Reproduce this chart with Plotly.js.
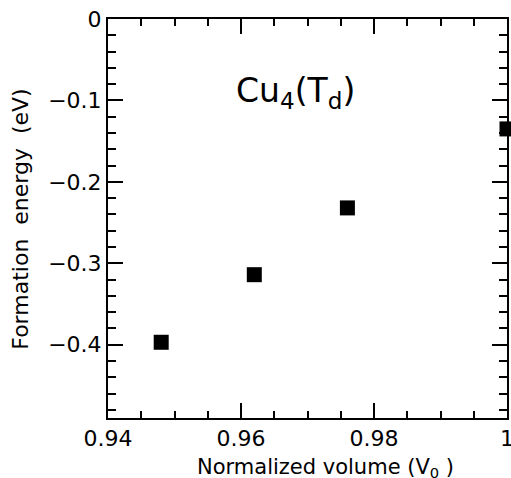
<!DOCTYPE html>
<html>
<head>
<meta charset="utf-8">
<script src="https://cdn.plot.ly/plotly-3.0.1.min.js"></script>
<style>html,body{margin:0;padding:0;background:#fff;}#chart{width:511px;height:478px;}</style>
</head>
<body>
<div id="chart"></div>
<script>
const normVolume = [0.948, 0.962, 0.976, 1.0];
const formationEnergy = [-0.397, -0.314, -0.232, -0.135];
const xTickVals = [0.94, 0.96, 0.98, 1.0];
const xTickText = ['0.94', '0.96', '0.98', '1'];
const yTickVals = [0, -0.1, -0.2, -0.3, -0.4];
const yTickText = ['0', '\u22120.1', '\u22120.2', '\u22120.3', '\u22120.4'];
const labelText = 'Cu<sub>4</sub>(T<sub>d</sub>)';
const xTitleText = 'Normalized volume (V<sub>0</sub> )';
const yTitleText = 'Formation\u00a0 energy\u00a0 (eV)';

const fontFam = 'DejaVu Sans, Verdana, sans-serif';

const trace = {
  x: normVolume, y: formationEnergy, type: 'scatter', mode: 'markers',
  marker: {symbol: 'square', size: 15, color: '#000'},
  cliponaxis: false, hoverinfo: 'none'
};

const axisCommon = {
  showline: true, linecolor: '#000', linewidth: 2, mirror: 'ticks',
  ticks: 'inside', ticklen: 15, tickwidth: 2, tickcolor: '#000',
  showgrid: false, zeroline: false, ticklabeloverflow: 'allow',
  tickfont: {family: fontFam, size: 22, color: '#000'}
};

const layout = {
  width: 511, height: 478,
  margin: {l: 108, r: 4, t: 19, b: 60},
  paper_bgcolor: '#fff', plot_bgcolor: '#fff',
  showlegend: false,
  xaxis: Object.assign({}, axisCommon, {
    range: [0.94, 1.0], tickmode: 'array', tickvals: xTickVals, ticktext: xTickText,
    minor: {dtick: 0.005, ticks: 'inside', ticklen: 7, tickwidth: 2, tickcolor: '#000', showgrid: false}
  }),
  yaxis: Object.assign({}, axisCommon, {
    range: [-0.49, 0], tickmode: 'array', tickvals: yTickVals, ticktext: yTickText,
    minor: {dtick: 0.02, tick0: 0, ticks: 'inside', ticklen: 8, tickwidth: 2, tickcolor: '#000', showgrid: false}
  }),
  annotations: [{
    text: labelText, xref: 'paper', yref: 'paper', x: 0.471, y: 0.815,
    xanchor: 'center', yanchor: 'middle', showarrow: false,
    font: {family: fontFam, size: 33, color: '#000'}
  }, {
    text: xTitleText, xref: 'paper', yref: 'paper', x: 0.546, y: -0.125,
    xanchor: 'center', yanchor: 'middle', showarrow: false,
    font: {family: fontFam, size: 21, color: '#000'}
  }, {
    text: yTitleText, xref: 'paper', yref: 'paper', x: -0.218, y: 0.497,
    xanchor: 'center', yanchor: 'middle', showarrow: false, textangle: -90,
    font: {family: fontFam, size: 22, color: '#000'}
  }]
};

Plotly.newPlot('chart', [trace], layout, {displayModeBar: false, staticPlot: true});
</script>
</body>
</html>
